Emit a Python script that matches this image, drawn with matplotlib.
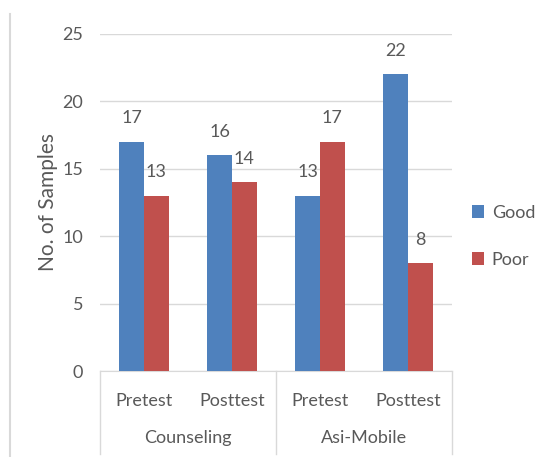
import numpy as np
import matplotlib.pyplot as plt
from matplotlib.lines import Line2D

groups = ["Counseling", "Asi-Mobile"]
tests = ["Pretest", "Posttest", "Pretest", "Posttest"]
good = [17, 16, 13, 22]
poor = [13, 14, 17, 8]

blue = "#4F81BD"
red = "#C0504D"
txt = "#595959"
grid = "#D9D9D9"

plt.rcParams["font.family"] = ["Lato", "DejaVu Sans"]
fs = 13

fig = plt.figure(figsize=(5.52, 4.57), dpi=100)
ax = fig.add_axes([0.181, 0.188, 0.638, 0.738])

x = np.arange(len(tests))
w = 0.28
b1 = ax.bar(x - w / 2, good, w, color=blue, label="Good", zorder=3)
b2 = ax.bar(x + w / 2, poor, w, color=red, label="Poor", zorder=3)

for bars in (b1, b2):
    for r in bars:
        ax.annotate(f"{r.get_height():g}", (r.get_x() + r.get_width() / 2, r.get_height()),
                    xytext=(0, 11), textcoords="offset points", ha="center", va="bottom",
                    fontsize=fs, color=txt)

ax.set_xlim(-0.5, 3.5)
ax.set_ylim(0, 25)
ax.set_yticks(range(0, 26, 5))
ax.yaxis.grid(True, color=grid, linewidth=1, zorder=0)
for s in ("top", "right", "left"):
    ax.spines[s].set_visible(False)
ax.spines["bottom"].set_color(grid)
ax.tick_params(axis="y", length=0, labelsize=fs, labelcolor=txt, pad=12)
ax.tick_params(axis="x", length=0, labelsize=fs, labelcolor=txt, pad=16)
ax.set_xticks(x)
ax.set_xticklabels(tests)
ax.set_ylabel("No. of Samples", fontsize=15, color=txt, labelpad=3)

# group labels and separators under the axis
for i, g in enumerate(groups):
    ax.text(0.25 + 0.5 * i, -0.198, g, transform=ax.transAxes, ha="center", va="center",
            fontsize=fs, color=txt)
for xf in (0, 0.5, 1.0):
    ax.add_line(Line2D([xf, xf], [0, -0.245], transform=ax.transAxes, color=grid,
                       linewidth=1, clip_on=False))

# outer chart border (left edge)
fig.add_artist(Line2D([10 / 552, 10 / 552], [0, 1 - 14 / 457], transform=fig.transFigure,
                      color="#D9D9D9", linewidth=1.5))

leg = ax.legend(loc="center left", bbox_to_anchor=(1.01, 0.40), frameon=False,
                fontsize=fs, handlelength=0.7, handleheight=0.7, labelspacing=1.7,
                handletextpad=0.4)
for t in leg.get_texts():
    t.set_color(txt)

fig.savefig("out.png", dpi=100)
